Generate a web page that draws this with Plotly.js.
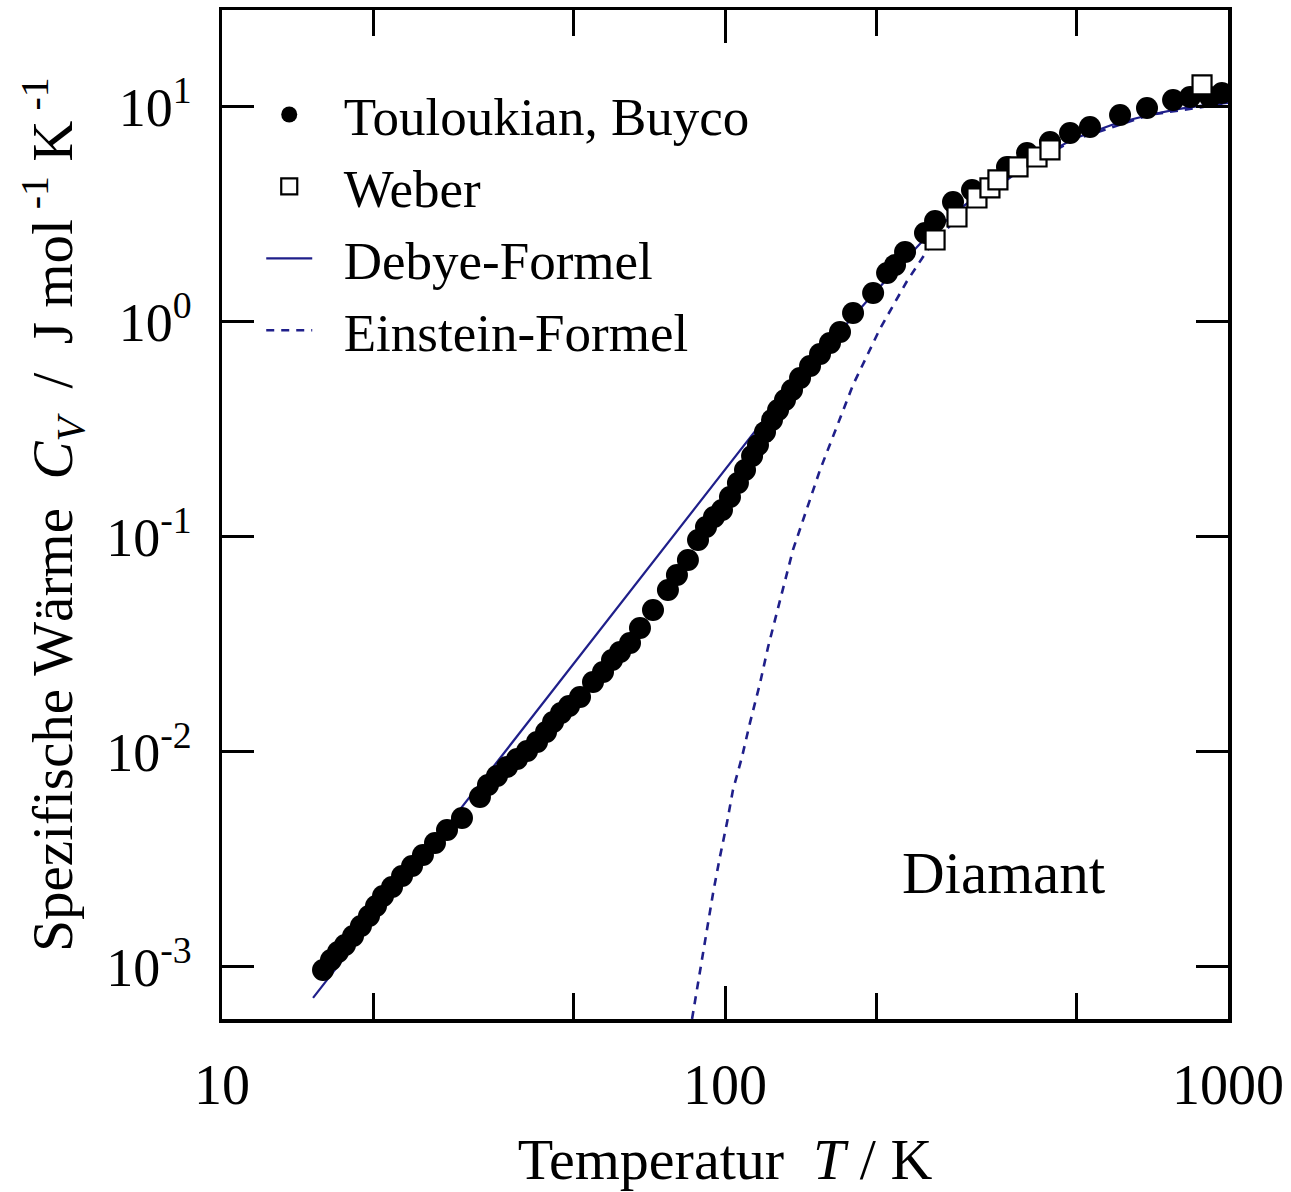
<!DOCTYPE html>
<html>
<head>
<meta charset="utf-8">
<script src="https://cdn.plot.ly/plotly-3.0.1.min.js"></script>
<style>html,body{margin:0;padding:0;background:#fff;}#chart{width:1291px;height:1192px;}</style>
</head>
<body>
<div id="chart"></div>
<script>
// Touloukian, Buyco (filled circles)
const touloukianT = [15.88,16.47,17.01,17.56,18.22,18.89,19.60,20.24,20.90,21.78,22.80,23.87,25.09,26.51,28.01,30.00,
  32.57,33.79,35.21,36.87,38.60,40.41,42.30,44.08,45.52,47.21,48.97,51.49,54.65,57.21,59.62,61.85,64.74,67.76,71.92,
  77.01,80.25,84.39,88.38,91.67,95.08,98.63,102.3,106.1,109.6,113.2,116.3,120.1,124.0,127.5,131.6,135.9,141.0,147.6,
  154.5,161.7,169.3,179.7,197.0,210.0,217.8,228.0,249.8,261.6,284.0,309.8,363.6,398.5,442.7,485.2,531.6,610.1,690.2,
  777.7,840.6,921.0,973.0];
const touloukianC = [9.68e-4,1.078e-3,1.174e-3,1.266e-3,1.394e-3,1.551e-3,1.727e-3,1.922e-3,2.139e-3,2.356e-3,2.651e-3,
  2.950e-3,3.318e-3,3.773e-3,4.337e-3,4.932e-3,6.175e-3,7.021e-3,7.733e-3,8.516e-3,9.28e-3,0.01011,0.01113,0.01239,
  0.01379,0.01518,0.01637,0.01803,0.02117,0.02356,0.02678,0.02919,0.03214,0.03773,0.04575,0.05669,0.06656,0.07816,
  0.09683,0.1113,0.1239,0.1335,0.1535,0.1783,0.2049,0.2380,0.2679,0.3080,0.3501,0.3898,0.4338,0.4828,0.5489,0.6243,
  0.7099,0.7986,0.8985,1.101,1.364,1.690,1.841,2.117,2.594,2.951,3.615,4.11,5.26,6.11,6.87,7.57,8.07,9.18,9.89,
  10.78,11.13,11.13,11.62];

// Weber (open squares)
const weberT = [261.6,289.2,316.9,336.3,348.8,382.4,417.2,442.7,887.9];
const weberC = [2.406,3.078,3.773,4.201,4.576,5.260,5.853,6.31,12.66];

// Debye-Formel (solid line)
const debyeT = [15.17,20,30,40,50,60,80,100,120,140,160,200,250,300,350,400,500,600,700,800,900,1000];
const debyeC = [7.18e-4,1.646e-3,5.55e-3,0.01316,0.0257,0.0444,0.1053,0.2056,0.3553,0.54,0.78,1.40,2.45,3.5,4.5,5.5,7.2,8.4,9.2,9.8,10.2,10.45];

// Einstein-Formel (dashed line)
const einsteinT = [86.0,89.2,92.1,94.7,97.7,100.9,103.7,108.1,112.1,117.4,121.8,136.5,154.5,179.7,203.3,230.1,255.6,300,400,500,700,1000];
const einsteinC = [5.73e-4,9.68e-4,1.486e-3,2.21e-3,3.25e-3,4.68e-3,6.65e-3,9.48e-3,0.01365,0.0209,0.0308,0.0871,0.205,0.51,0.93,1.55,2.25,3.3,5.4,7.1,9.2,10.4];

// Axis ticks
const xTickVals = [10,100,1000];
const xTickText = ['10','100','1000'];
const xMinorVals = [20,50,200,500];
const yTickVals = [0.001,0.01,0.1,1,10];
const yTickText = ['10<sup>-3</sup>','10<sup>-2</sup>','10<sup>-1</sup>','10<sup>0</sup>','10<sup>1</sup>'];

const lineColor = '#1f1f8a';
const serif = 'Liberation Serif, Times New Roman, serif';
const pad = '&nbsp;&nbsp;';

const traces = [
  {x: debyeT, y: debyeC, mode: 'lines', name: pad + 'Debye-Formel', legendrank: 3,
   line: {color: lineColor, width: 2.2}},
  {x: einsteinT, y: einsteinC, mode: 'lines', name: pad + 'Einstein-Formel', legendrank: 4,
   line: {color: lineColor, width: 2.6, dash: '8px,7px'}},
  {x: touloukianT, y: touloukianC, mode: 'markers', name: pad + 'Touloukian, Buyco', legendrank: 1,
   marker: {symbol: 'circle', size: 22, color: '#000'}},
  {x: weberT, y: weberC, mode: 'markers', name: pad + 'Weber', legendrank: 2,
   marker: {symbol: 'square', size: 19, color: '#fff', line: {color: '#000', width: 2.2}}}
];

const layout = {
  width: 1291, height: 1192,
  margin: {l: 222, r: 63, t: 10, b: 173},
  paper_bgcolor: '#fff', plot_bgcolor: '#fff',
  font: {family: serif, color: '#000', size: 50},
  showlegend: true,
  legend: {x: 0.039, y: 0.937, xanchor: 'left', yanchor: 'top', bgcolor: 'rgba(0,0,0,0)',
           itemwidth: 46,
           font: {family: serif, size: 53}, traceorder: 'normal'},
  xaxis: {
    type: 'log', range: [1, 3],
    tickmode: 'array', tickvals: xTickVals, ticktext: xTickText,
    ticks: 'inside', ticklen: 33, tickwidth: 3, tickcolor: '#000',
    minor: {tickmode: 'array', tickvals: xMinorVals, ticks: 'inside', ticklen: 26, tickwidth: 3, tickcolor: '#000', showgrid: false},
    showline: true, linewidth: 3.5, linecolor: '#000', mirror: 'ticks',
    showgrid: false, zeroline: false,
    tickfont: {family: serif, size: 56},
    ticklabelstandoff: 14,
    title: {text: 'Temperatur  <i>T</i> / K', font: {family: serif, size: 58}, standoff: 26}
  },
  yaxis: {
    type: 'log', range: [-3.242, 1.451],
    tickmode: 'array', tickvals: yTickVals, ticktext: yTickText,
    ticks: 'inside', ticklen: 32, tickwidth: 3, tickcolor: '#000',
    showline: true, linewidth: 3.5, linecolor: '#000', mirror: 'ticks',
    showgrid: false, zeroline: false,
    tickfont: {family: serif, size: 54},
    ticklabelstandoff: 16,
    title: {text: 'Spezifische Wärme  <i>C<sub>V</sub></i>  /  J mol<sup> -1</sup> K<sup> -1</sup>', font: {family: serif, size: 57}, standoff: 16}
  },
  annotations: [
    {xref: 'paper', yref: 'paper', x: 0.777, y: 0.145, text: 'Diamant', showarrow: false,
     xanchor: 'center', yanchor: 'middle', font: {family: serif, size: 59, color: '#000'}}
  ]
};

Plotly.newPlot('chart', traces, layout, {displayModeBar: false, staticPlot: true});
</script>
</body>
</html>
